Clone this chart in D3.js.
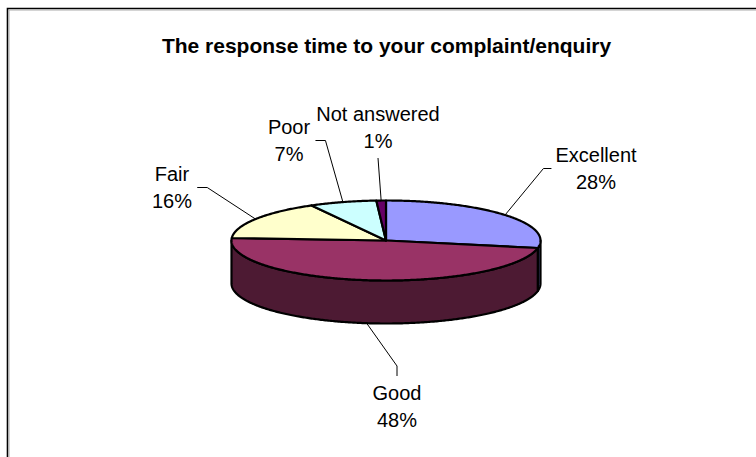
<!DOCTYPE html>
<html>
<head>
<meta charset="utf-8">
<script src="https://cdn.jsdelivr.net/npm/d3@7"></script>
<style>
  body { margin: 0; background: #fff; }
  text { font-family: "Liberation Sans", Arial, sans-serif; fill: #000; }
</style>
</head>
<body>
<div id="chart"></div>
<script>
// data
const categories = ["Excellent", "Good", "Fair", "Poor", "Not answered"];
const percents = [28, 48, 16, 7, 1];
const topColors = ["#9999FF", "#993366", "#FFFFCC", "#CCFFFF", "#660066"];
const chartTitle = "The response time to your complaint/enquiry";

// where excel put each label (center x, first baseline) and which side the leader enters
const labelLayout = [
    { x: 596, y: 162, side: "left" },
    { x: 397, y: 400, side: "top" },
    { x: 172, y: 181, side: "right" },
    { x: 289, y: 134, side: "right" },
    { x: 378, y: 121, side: "bottom" }
];

const width = 756, height = 457;
const svg = d3.select("#chart").append("svg")
    .attr("width", width)
    .attr("height", height);

// frame (only top and left edges are inside the picture)
svg.append("path")
    .attr("d", "M7.5,457V8.5H756")
    .attr("fill", "none")
    .attr("stroke", "#000")
    .attr("stroke-width", 1.6);
svg.append("path")
    .attr("d", "M9,457V10H756")
    .attr("fill", "none")
    .attr("stroke", "#aaa")
    .attr("stroke-width", 1);

svg.append("text")
    .attr("x", 386.5)
    .attr("y", 53)
    .attr("text-anchor", "middle")
    .style("font-weight", "bold")
    .style("font-size", "21px")
    .text(chartTitle);

// pie geometry: flattened ellipse with a side wall
const cx = 386, cy = 240.5, rx = 154.5, ry = 40, depth = 43;
const pt = (a, dy = 0) => [cx + rx * Math.sin(a), cy - ry * Math.cos(a) + dy];

const pie = d3.pie().sort(null).value(d => d);
const arcs = pie(percents);

const line = d3.line();
const arcPoints = (a0, a1, dy) => {
    const n = Math.max(2, Math.ceil(Math.abs(a1 - a0) / 0.01));
    return d3.range(n + 1).map(i => pt(a0 + (a1 - a0) * i / n, dy));
};

// wall colour: half of the top colour
const darker = c => {
    const r = d3.rgb(c);
    return d3.rgb(r.r * 0.5, r.g * 0.5, r.b * 0.5).formatHex();
};

// side walls (front half only: PI/2 .. 3PI/2)
const g = svg.append("g");
arcs.forEach((a, i) => {
    const s = Math.max(a.startAngle, Math.PI / 2);
    const e = Math.min(a.endAngle, 3 * Math.PI / 2);
    if (e <= s) return;
    const pts = arcPoints(s, e, 0).concat(arcPoints(e, s, depth));
    g.append("path")
        .attr("d", line(pts) + "Z")
        .attr("fill", darker(topColors[i]))
        .attr("stroke", "#000")
        .attr("stroke-width", 2.2)
        .attr("stroke-linejoin", "round");
});

// top faces
arcs.forEach((a, i) => {
    const pts = [[cx, cy]].concat(arcPoints(a.startAngle, a.endAngle, 0));
    g.append("path")
        .attr("d", line(pts) + "Z")
        .attr("fill", topColors[i])
        .attr("stroke", "#000")
        .attr("stroke-width", 2.2)
        .attr("stroke-linejoin", "round");
});

// labels and leader lines
const lg = svg.append("g");
arcs.forEach((a, i) => {
    const lay = labelLayout[i];
    const t = lg.append("text")
        .attr("text-anchor", "middle")
        .style("font-size", "20px");
    t.append("tspan").attr("x", lay.x).attr("y", lay.y).text(categories[i]);
    t.append("tspan").attr("x", lay.x).attr("y", lay.y + 27).text(percents[i] + "%");

    const bb = t.node().getBBox();
    const mid = (a.startAngle + a.endAngle) / 2;
    // anchor on the rim; on the front half the line starts at the bottom of the wall
    const front = Math.cos(mid) < -0.5;
    const anchor = pt(mid, front ? depth : 0);

    let pts;
    const my = bb.y + bb.height / 2;
    if (lay.side === "left") {
        const end = [bb.x - 4, my];
        pts = [anchor, [end[0] - 8, my], end];
    } else if (lay.side === "right") {
        const end = [bb.x + bb.width + 5, my];
        pts = [anchor, [end[0] + 10, my], end];
    } else if (lay.side === "top") {
        const end = [lay.x, bb.y - 6];
        pts = [anchor, [lay.x, end[1] - 10], end];
    } else {
        pts = [anchor, [lay.x, bb.y + bb.height + 6]];
    }
    lg.append("path")
        .attr("d", line(pts))
        .attr("fill", "none")
        .attr("stroke", "#000")
        .attr("stroke-width", 1);
});
</script>
</body>
</html>
